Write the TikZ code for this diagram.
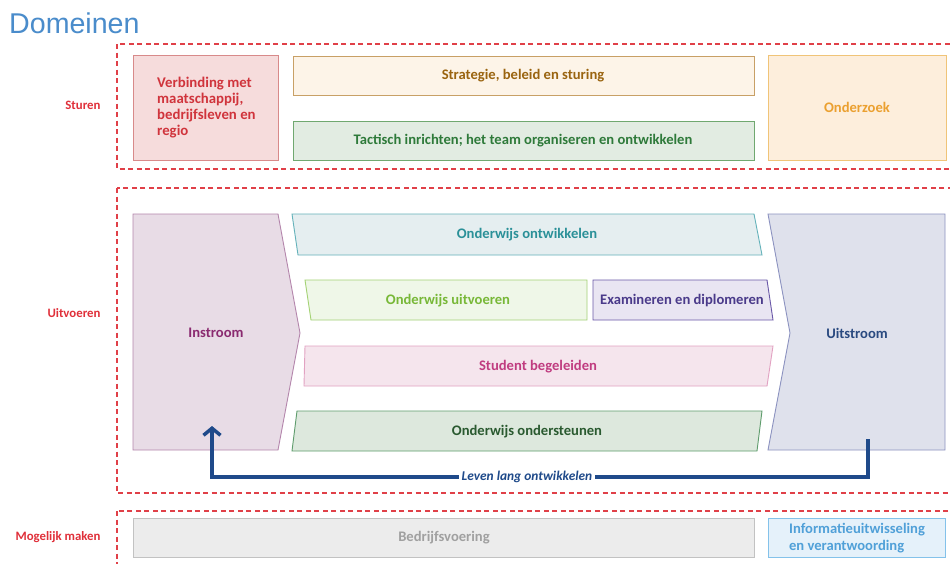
\documentclass[tikz,border=0pt]{standalone}
\usepackage{fontspec}
\setmainfont{Carlito}
\newfontfamily\titlefont{Liberation Sans}
\usetikzlibrary{arrows.meta}
\definecolor{dashred}{HTML}{E04048}
\definecolor{lblred}{HTML}{E0303A}
\definecolor{titleblue}{HTML}{4A8CCB}
\definecolor{vbFill}{HTML}{F6DCDC}\definecolor{vbDraw}{HTML}{D88A8A}\definecolor{vbText}{HTML}{D0343C}
\definecolor{stFill}{HTML}{FDF4E8}\definecolor{stDraw}{HTML}{C8A066}\definecolor{stText}{HTML}{9A6410}
\definecolor{taFill}{HTML}{E2ECE2}\definecolor{taDraw}{HTML}{70A870}\definecolor{taText}{HTML}{2E7A3A}
\definecolor{ozFill}{HTML}{FDEEDC}\definecolor{ozDraw}{HTML}{F0C478}\definecolor{ozText}{HTML}{EBA030}
\definecolor{inFill}{HTML}{E8DCE6}\definecolor{inDraw}{HTML}{B486AC}\definecolor{inText}{HTML}{8A2A70}
\definecolor{usFill}{HTML}{DFE1EC}\definecolor{usDraw}{HTML}{8C92C0}\definecolor{usText}{HTML}{2A4A80}
\definecolor{owFill}{HTML}{E5EEF0}\definecolor{owDraw}{HTML}{64B2BA}\definecolor{owText}{HTML}{2A9098}
\definecolor{ouFill}{HTML}{EFF7E8}\definecolor{ouDraw}{HTML}{A4D274}\definecolor{ouText}{HTML}{78B838}
\definecolor{exFill}{HTML}{E9E5F2}\definecolor{exDraw}{HTML}{6A58A8}\definecolor{exText}{HTML}{4A3A8A}
\definecolor{sbFill}{HTML}{F5E5ED}\definecolor{sbDraw}{HTML}{E2A2C2}\definecolor{sbText}{HTML}{C03C80}
\definecolor{onFill}{HTML}{DDE8DD}\definecolor{onDraw}{HTML}{5E9C6C}\definecolor{onText}{HTML}{2A5A30}
\definecolor{bvFill}{HTML}{ECECEC}\definecolor{bvDraw}{HTML}{C2C2C2}\definecolor{bvText}{HTML}{A0A0A0}
\definecolor{ifFill}{HTML}{E5F1FA}\definecolor{ifDraw}{HTML}{84C2EA}\definecolor{ifText}{HTML}{50A0D8}
\definecolor{arrowblue}{HTML}{1F4A8A}
\tikzset{
  zone/.style={draw=dashred, line width=1.3pt, dash pattern=on 5pt off 3.5pt},
  rowlbl/.style={text=lblred, font=\bfseries\fontsize{12.8}{15}\selectfont, anchor=east},
  blk/.style={line width=0.9pt},
  txt/.style={font=\bfseries\fontsize{14.6}{17}\selectfont, align=center},
}
\begin{document}
\begin{tikzpicture}[x=1pt,y=-1pt]
\useasboundingbox (0,0) rectangle (950,563);
\clip (0,0) rectangle (950,563);
\fill[white] (0,0) rectangle (950,563);
% title
\node[anchor=base west, inner sep=0, text=titleblue, font=\titlefont\fontsize{28.6}{30}\selectfont] (title) at (9,33) {Domeinen};
% zones
\draw[zone] (117,44) rectangle (965,169);
\draw[zone] (117,188) rectangle (965,493);
\draw[zone] (117,511) rectangle (965,580);
\node[rowlbl] (lsturen) at (104,105) {Sturen};
\node[rowlbl] (luitv) at (104,313) {Uitvoeren};
\node[rowlbl] (lmog) at (104,537) {Mogelijk maken};
% Sturen row
\draw[blk, fill=vbFill, draw=vbDraw] (133,55) rectangle (278,160);
\node[txt, align=left, anchor=north west, text=vbText, font=\bfseries\fontsize{14.8}{16}\selectfont, inner sep=0] (verb) at (157,77) {Verbinding met\\maatschappij,\\bedrijfsleven en\\regio};
\draw[blk, fill=stFill, draw=stDraw] (293,56) rectangle (754,95);
\node[txt, text=stText] (strat) at (523,75.5) {Strategie, beleid en sturing};
\draw[blk, fill=taFill, draw=taDraw] (293,121) rectangle (754,160);
\node[txt, text=taText] (tact) at (523,140.5) {Tactisch inrichten; het team organiseren en ontwikkelen};
\draw[blk, fill=ozFill, draw=ozDraw] (768,55) rectangle (946,160);
\node[txt, text=ozText] (onderz) at (857,107.5) {Onderzoek};
% Uitvoeren row
\draw[blk, fill=inFill, draw=inDraw] (133,214) -- (278,214) -- (300,333) -- (278,450) -- (133,450) -- cycle;
\node[txt, text=inText] (instr) at (216,333) {Instroom};
\draw[blk, fill=usFill, draw=usDraw] (768,214) -- (945,214) -- (945,450) -- (768,450) -- (790,333) -- cycle;
\node[txt, text=usText] (uitstr) at (857,333) {Uitstroom};
\draw[blk, fill=owFill, draw=owDraw] (292,214) -- (754,214) -- (762,255) -- (298,255) -- cycle;
\node[txt, text=owText] (ontw) at (527,235) {Onderwijs ontwikkelen};
\draw[blk, fill=ouFill, draw=ouDraw] (305,280) -- (587,280) -- (587,320) -- (311,320) -- cycle;
\node[txt, text=ouText] (uitv) at (448,300.5) {Onderwijs uitvoeren};
\draw[blk, fill=exFill, draw=exDraw] (593,280) -- (767,280) -- (773,320) -- (593,320) -- cycle;
\node[txt, text=exText] (exam) at (682,300.5) {Examineren en diplomeren};
\draw[blk, fill=sbFill, draw=sbDraw] (305,346) -- (773,346) -- (767,386) -- (304,386) -- cycle;
\node[txt, text=sbText] (stud) at (538,366.5) {Student begeleiden};
\draw[blk, fill=onFill, draw=onDraw] (297,411) -- (762,411) -- (757,451) -- (292,451) -- cycle;
\node[txt, text=onText] (onders) at (527,432) {Onderwijs ondersteunen};
% arrow
\coordinate (ls) at (868,439);
\coordinate (le) at (212,426);
\draw[arrowblue, line width=3.5pt, -{Straight Barb[length=7pt,width=17pt,line width=3.5pt]}] (ls) -- ++(0,38) -| (le);
\node[fill=white, inner xsep=3pt, inner ysep=1pt, text=arrowblue, font=\bfseries\itshape\fontsize{13.4}{15}\selectfont] (leven) at (527,477) {Leven lang ontwikkelen};
% Mogelijk maken row
\draw[blk, fill=bvFill, draw=bvDraw] (133,518) rectangle (754,557);
\node[txt, text=bvText] (bedr) at (444,538) {Bedrijfsvoering};
\draw[blk, fill=ifFill, draw=ifDraw] (768,518) rectangle (945,557);
\node[txt, align=left, text=ifText, font=\bfseries\fontsize{14.6}{17}\selectfont] (info) at (857,538) {Informatieuitwisseling\\en verantwoording};
\end{tikzpicture}
\end{document}
